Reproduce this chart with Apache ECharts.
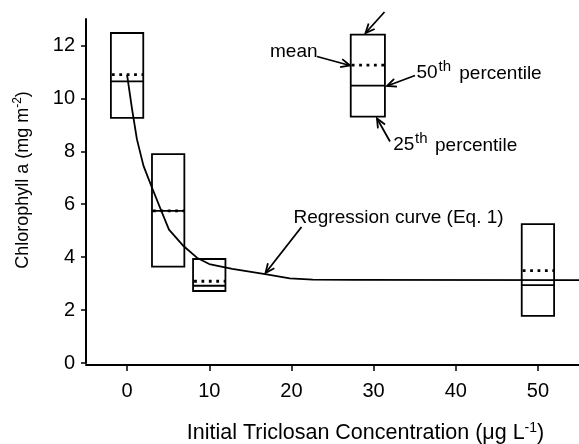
<!DOCTYPE html>
<html>
<head>
<meta charset="utf-8">
<script src="https://cdn.jsdelivr.net/npm/echarts@6/dist/echarts.min.js"></script>
<style>
  html, body { margin: 0; padding: 0; background: #fff; }
  #chart { width: 579px; height: 444px; }
</style>
</head>
<body>
<div id="chart"></div>
<script>
// ---- data ----
const concentrations = [0, 5, 10, 50];           // initial triclosan (µg/L)
const q1Values     = [9.26, 3.64, 2.72, 1.78];    // 25th percentile
const medianValues = [10.64, 5.75, 2.92, 2.94];   // 50th percentile
const q3Values     = [12.47, 7.89, 3.93, 5.25];   // 75th percentile
const meanValues   = [10.90, 5.75, 3.09, 3.49];   // mean

// example (key) box drawn in the upper area
const keyX = [29.3];
const keyQ1 = [9.31];
const keyMedian = [10.48];
const keyQ3 = [12.41];
const keyMean = [11.26];

// regression curve (Eq. 1)
const curveX = [0, 0.6, 1.2, 2.0, 3.0, 4.1, 5.1, 6.9, 8.5, 10.0, 12.8, 16.8, 19.8, 22.6, 27.5, 55];
const curveY = [10.89, 9.60, 8.45, 7.45, 6.65, 5.80, 5.04, 4.41, 3.98, 3.74, 3.56, 3.36, 3.20, 3.15, 3.14, 3.13];

const xTicks = [0, 10, 20, 30, 40, 50];
const yTicks = [0, 2, 4, 6, 8, 10, 12];

// ---- styling ----
const FONT = 'Liberation Sans, Arial, sans-serif';
const BOX_HALF = 1.97;
const KEY_HALF = 2.08;

const chart = echarts.init(document.getElementById('chart'), null, { renderer: 'canvas' });

function boxRenderer(hw) {
  return function (params, api) {
    const x = api.value(0), lo = api.value(1), md = api.value(2), hi = api.value(3), mn = api.value(4);
    const tl = api.coord([x - hw, hi]);
    const br = api.coord([x + hw, lo]);
    const ml = api.coord([x - hw, md]);
    const mr = api.coord([x + hw, md]);
    const nl = api.coord([x - hw, mn]);
    const nr = api.coord([x + hw, mn]);
    return {
      type: 'group',
      children: [
        { type: 'rect', shape: { x: tl[0], y: tl[1], width: br[0] - tl[0], height: br[1] - tl[1] },
          style: { fill: 'none', stroke: '#000', lineWidth: 1.8 } },
        { type: 'line', shape: { x1: ml[0], y1: ml[1], x2: mr[0], y2: mr[1] },
          style: { stroke: '#000', lineWidth: 1.8 } },
        { type: 'line', shape: { x1: nl[0] + 1, y1: nl[1], x2: nr[0], y2: nr[1] },
          style: { stroke: '#000', lineWidth: 2.8, lineDash: [2.8, 4.6] } }
      ]
    };
  };
}

function arrow(x1, y1, x2, y2) {
  const ang = Math.atan2(y2 - y1, x2 - x1);
  const L = 10, a = 0.42;
  const p1 = [x2 - L * Math.cos(ang - a), y2 - L * Math.sin(ang - a)];
  const p2 = [x2 - L * Math.cos(ang + a), y2 - L * Math.sin(ang + a)];
  return [
    { type: 'line', shape: { x1: x1, y1: y1, x2: x2, y2: y2 }, style: { stroke: '#000', lineWidth: 1.8 } },
    { type: 'polyline', shape: { points: [p1, [x2, y2], p2] }, style: { stroke: '#000', lineWidth: 1.8, fill: null } }
  ];
}

function txt(s, x, baseline, size) {
  return {
    type: 'text', x: x, y: baseline - 0.34 * size,
    style: { text: s, fontSize: size, fontFamily: FONT, fill: '#000',
             align: 'left', verticalAlign: 'middle', textAlign: 'left', textVerticalAlign: 'middle' }
  };
}

const graphics = [].concat(
  [txt('mean', 270, 58.3, 19)],
  arrow(317, 56.5, 350, 65.5),
  [txt('50', 416.5, 79.5, 19), txt('th', 438.5, 71.5, 15), txt('percentile', 459.3, 80.5, 19)],
  arrow(415, 75.5, 387, 86),
  [txt('25', 393.3, 151.5, 19), txt('th', 415, 143.5, 15), txt('percentile', 435, 152, 19)],
  arrow(390, 141.5, 377, 118.5),
  arrow(384.5, 12, 365.5, 33),
  [txt('Regression curve (Eq. 1)', 293.5, 224, 19)],
  arrow(301.5, 227, 265.5, 273)
);

const option = {
  animation: false,
  backgroundColor: '#fff',
  textStyle: { fontFamily: FONT },
  grid: { left: 86, right: 0, top: 19, bottom: 81, containLabel: false, outerBoundsMode: 'none' },
  xAxis: {
    type: 'value', min: -5, max: 55, offset: 2,
    splitLine: { show: false },
    axisLine: { show: true, onZero: false, lineStyle: { color: '#000', width: 2 } },
    axisTick: { show: true, customValues: xTicks, length: 6, lineStyle: { color: '#000', width: 1.5 } },
    axisLabel: { customValues: xTicks, color: '#000', fontSize: 20, fontFamily: FONT, margin: 16 },
    name: 'Initial Triclosan Concentration (μg L{sup|-1})',
    nameLocation: 'middle', nameGap: 56,
    nameTextStyle: {
      color: '#000', fontSize: 21.5, fontFamily: FONT, padding: [0, 0, 0, 66], lineHeight: 25,
      rich: { sup: { fontSize: 14, verticalAlign: 'top', color: '#000', fontFamily: FONT } }
    }
  },
  yAxis: {
    type: 'value', min: 0, max: 13,
    splitLine: { show: false },
    axisLine: { show: true, onZero: false, lineStyle: { color: '#000', width: 2 } },
    axisTick: { show: true, customValues: yTicks, length: 5, lineStyle: { color: '#000', width: 1.5 } },
    axisLabel: { customValues: yTicks, color: '#000', fontSize: 20, fontFamily: FONT, margin: 11 },
    name: 'Chlorophyll a (mg m{sup|-2})',
    nameLocation: 'middle', nameGap: 52, nameRotate: 90,
    nameTextStyle: {
      color: '#000', fontSize: 18, fontFamily: FONT, padding: [0, 0, 0, 22], lineHeight: 22,
      rich: { sup: { fontSize: 12, verticalAlign: 'top', color: '#000', fontFamily: FONT } }
    }
  },
  series: [
    {
      type: 'custom', name: 'boxes',
      data: concentrations.map((c, i) => [c, q1Values[i], medianValues[i], q3Values[i], meanValues[i]]),
      encode: { x: 0, y: [1, 2, 3, 4] },
      renderItem: boxRenderer(BOX_HALF),
      clip: false, z: 2
    },
    {
      type: 'custom', name: 'key',
      data: keyX.map((c, i) => [c, keyQ1[i], keyMedian[i], keyQ3[i], keyMean[i]]),
      encode: { x: 0, y: [1, 2, 3, 4] },
      renderItem: boxRenderer(KEY_HALF),
      clip: false, z: 2
    },
    {
      type: 'line', name: 'Regression curve',
      data: curveX.map((x, i) => [x, curveY[i]]),
      showSymbol: false, symbol: 'none', smooth: false,
      lineStyle: { color: '#000', width: 1.8, join: 'round' },
      z: 3
    }
  ],
  graphic: graphics
};

chart.setOption(option);
</script>
</body>
</html>
